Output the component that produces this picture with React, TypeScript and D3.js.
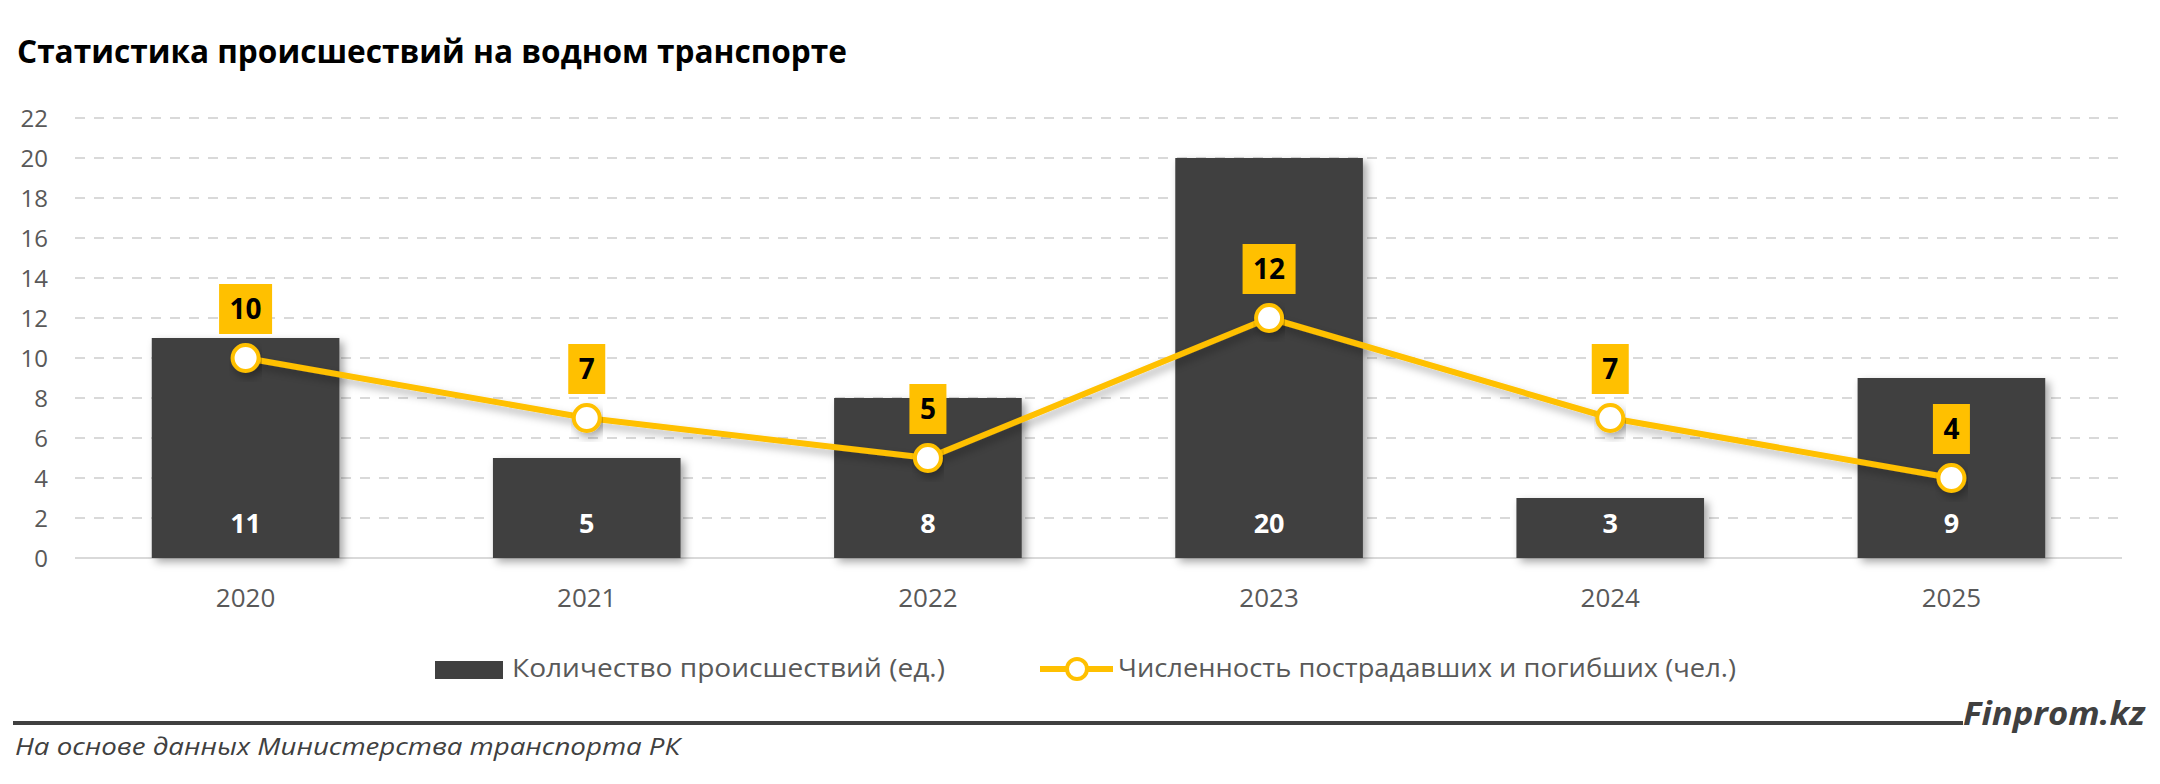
import React from "react";
import * as d3 from "d3";

// chart data
const years = ["2020", "2021", "2022", "2023", "2024", "2025"];
const incidents = [11, 5, 8, 20, 3, 9];
const victims = [10, 7, 5, 12, 7, 4];
const yTicks = [0, 2, 4, 6, 8, 10, 12, 14, 16, 18, 20, 22];

const title = "Статистика происшествий на водном транспорте";
const legendBars = "Количество происшествий (ед.)";
const legendLine = "Численность пострадавших и погибших (чел.)";
const sourceText = "На основе данных Министерства транспорта РК";
const brand = "Finprom.kz";

const W = 2160;
const H = 784;
const FONT = "'Open Sans', 'DejaVu Sans', sans-serif";
const BAR = "#404040";
const GOLD = "#FFC000";
const GRID = "#D9D9D9";
const TEXT = "#595959";

const App: React.FC = () => {
  const x = d3
    .scaleBand<string>()
    .domain(years)
    .range([75, 2122])
    .paddingInner(0.45)
    .paddingOuter(0.225);

  const y = d3.scaleLinear().domain([0, 22]).range([558, 118]);

  const cx = (d: string) => (x(d) ?? 0) + x.bandwidth() / 2;

  const linePath = d3
    .line<number>()
    .x((_, i) => cx(years[i]))
    .y((d) => y(d))(victims);

  return (
    <svg
      width={W}
      height={H}
      style={{ position: "absolute", left: 0, top: 0, background: "#fff" }}
      fontFamily={FONT}
    >
      <defs>
        <filter id="shadow" x="-20%" y="-20%" width="150%" height="150%">
          <feDropShadow dx="4" dy="4" stdDeviation="4" floodColor="#000" floodOpacity="0.35" />
        </filter>
        <filter id="lshadow" x="-10%" y="-20%" width="120%" height="160%">
          <feDropShadow dx="3" dy="5" stdDeviation="4" floodColor="#000" floodOpacity="0.3" />
        </filter>
      </defs>

      {/* title */}
      <text x={17} y={63} fontSize={32} fontWeight={700} fill="#000" textLength={830} lengthAdjust="spacingAndGlyphs">
        {title}
      </text>

      {/* grid + y ticks */}
      {yTicks.map((t) => (
        <g key={t}>
          {t > 0 && (
            <line
              x1={75}
              x2={2122}
              y1={y(t)}
              y2={y(t)}
              stroke={GRID}
              strokeWidth={2}
              strokeDasharray="10 9"
            />
          )}
          <text x={48} y={y(t)} dy="0.36em" textAnchor="end" fontSize={24} fill={TEXT}>
            {t}
          </text>
        </g>
      ))}
      <line x1={75} x2={2122} y1={y(0)} y2={y(0)} stroke={GRID} strokeWidth={2} />

      {/* bars */}
      {years.map((yr, i) => (
        <rect
          key={yr}
          x={x(yr)}
          y={y(incidents[i])}
          width={x.bandwidth()}
          height={y(0) - y(incidents[i])}
          fill={BAR}
          filter="url(#shadow)"
        />
      ))}
      {years.map((yr, i) => (
        <text
          key={yr}
          x={cx(yr)}
          y={y(0) - 25}
          textAnchor="middle"
          fontSize={27}
          fontWeight={700}
          fill="#fff"
        >
          {incidents[i]}
        </text>
      ))}

      {/* x labels */}
      {years.map((yr) => (
        <text key={yr} x={cx(yr)} y={607} textAnchor="middle" fontSize={26} fill={TEXT}>
          {yr}
        </text>
      ))}

      {/* line series */}
      <path
        d={linePath ?? ""}
        fill="none"
        stroke={GOLD}
        strokeWidth={6}
        strokeLinejoin="round"
        filter="url(#lshadow)"
      />
      {victims.map((v, i) => (
        <circle
          key={i}
          cx={cx(years[i])}
          cy={y(v)}
          r={13}
          fill="#fff"
          stroke={GOLD}
          strokeWidth={4}
          filter="url(#lshadow)"
        />
      ))}
      {victims.map((v, i) => {
        const w = String(v).length * 16 + 21;
        const bx = cx(years[i]);
        const by = y(v) - 49;
        return (
          <g key={i}>
            <rect x={bx - w / 2} y={by - 25} width={w} height={50} fill={GOLD} />
            <text x={bx} y={by} dy="0.36em" textAnchor="middle" fontSize={28} fontWeight={700} fill="#000">
              {v}
            </text>
          </g>
        );
      })}

      {/* legend */}
      <rect x={435} y={661} width={68} height={18} fill={BAR} />
      <text x={512} y={677} fontSize={26} fill={TEXT} textLength={433} lengthAdjust="spacingAndGlyphs">
        {legendBars}
      </text>
      <line x1={1040} x2={1113} y1={669} y2={669} stroke={GOLD} strokeWidth={6} />
      <circle cx={1077} cy={669} r={10} fill="#fff" stroke={GOLD} strokeWidth={4} />
      <text x={1118} y={677} fontSize={26} fill={TEXT} textLength={618} lengthAdjust="spacingAndGlyphs">
        {legendLine}
      </text>

      {/* footer */}
      <line x1={13} x2={1963} y1={723} y2={723} stroke="#404040" strokeWidth={4} />
      <text
        x={1963}
        y={725}
        fontSize={32}
        fontWeight={700}
        fontStyle="italic"
        fill="#404040"
        textLength={182}
        lengthAdjust="spacingAndGlyphs"
      >
        {brand}
      </text>
      <text
        x={15}
        y={755}
        fontSize={24}
        fontStyle="italic"
        fill="#404040"
        textLength={665}
        lengthAdjust="spacingAndGlyphs"
      >
        {sourceText}
      </text>
    </svg>
  );
};

export default App;
